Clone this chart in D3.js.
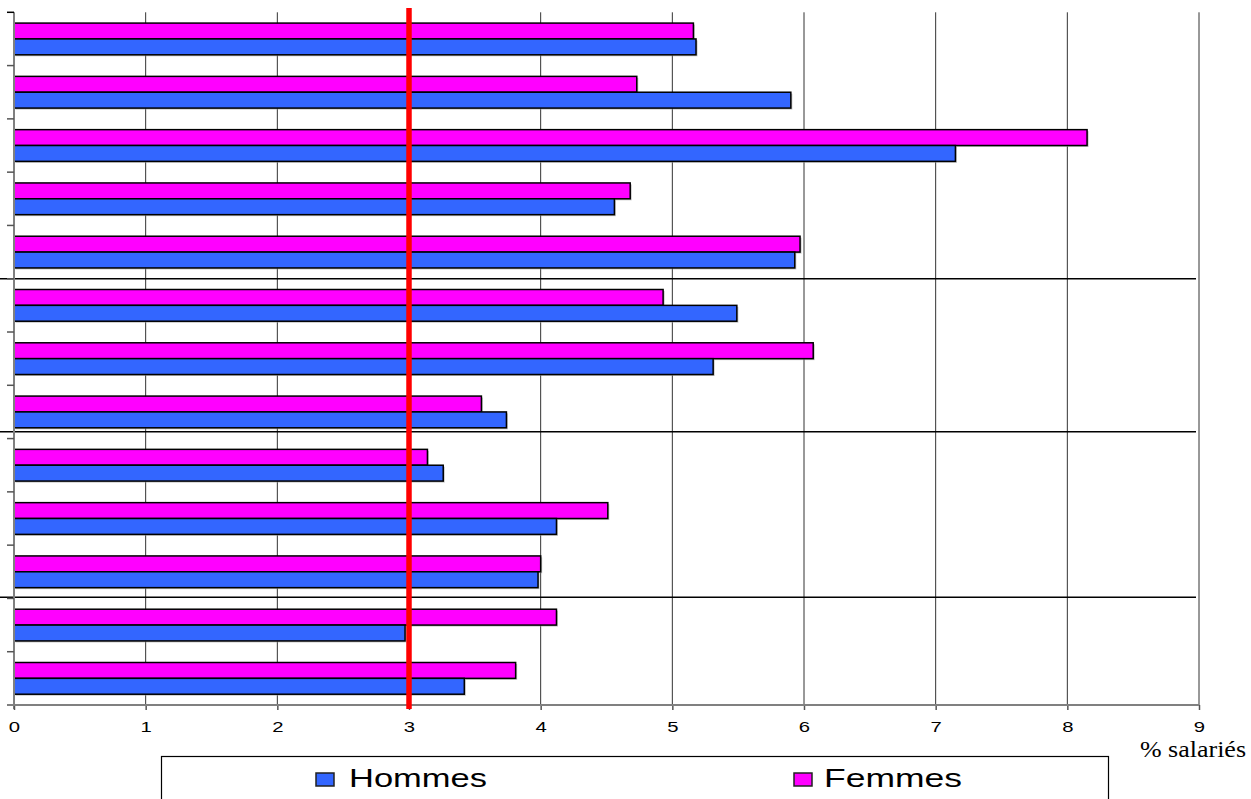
<!DOCTYPE html>
<html>
<head>
<meta charset="utf-8">
<script src="https://cdn.jsdelivr.net/npm/d3@7"></script>
<style>
  html, body { margin: 0; padding: 0; background: #fff; }
  svg { display: block; }
</style>
</head>
<body>
<svg id="chart" width="1251" height="799"></svg>
<script>
// ---- data ----
const categories = ["1","2","3","4","5","6","7","8","9","10","11","12","13"];
const seriesNames = ["Femmes", "Hommes"];
const femmes = [5.16, 4.73, 8.15, 4.68, 5.97, 4.93, 6.07, 3.55, 3.14, 4.51, 4.00, 4.12, 3.81];
const hommes = [5.18, 5.90, 7.15, 4.56, 5.93, 5.49, 5.31, 3.74, 3.26, 4.12, 3.98, 2.97, 3.42];
const xTicks = [0, 1, 2, 3, 4, 5, 6, 7, 8, 9];
const referenceValue = 3;
const separatorsAfter = [5, 8, 11];
const xAxisTitle = "% salariés";
const legendLabels = ["Hommes", "Femmes"];

(function () {
const colors = { Femmes: "#FF00FF", Hommes: "#3366FF" };

const svg = d3.select("#chart");
const pLeft = 14, pRight = 1199, pTop = 12.3, pBottom = 705;

const x = d3.scaleLinear().domain([0, 9]).range([pLeft, pRight]);
const y = d3.scaleBand().domain(categories).range([pTop, pBottom]).padding(0);
const ySub = d3.scaleBand().domain(seriesNames).range([0, y.bandwidth()])
  .paddingInner(0).paddingOuter(0.68);

// gridlines
svg.append("g").selectAll("line").data(xTicks.filter(d => d > 0)).join("line")
  .attr("x1", d => x(d)).attr("x2", d => x(d))
  .attr("y1", pTop).attr("y2", pBottom)
  .attr("stroke", "#333").attr("stroke-width", 1);

// bars
const rows = categories.map((c, i) => ({ c, Femmes: femmes[i], Hommes: hommes[i] }));
const g = svg.append("g");
seriesNames.forEach(s => {
  g.append("g").selectAll("rect").data(rows).join("rect")
    .attr("x", x(0) + 1.5)
    .attr("y", d => y(d.c) + ySub(s) + 1.5)
    .attr("width", d => x(d[s]) - x(0))
    .attr("height", ySub.bandwidth())
    .attr("fill", "#999").attr("opacity", 0.6);
  g.append("g").selectAll("rect").data(rows).join("rect")
    .attr("x", x(0))
    .attr("y", d => y(d.c) + ySub(s))
    .attr("width", d => x(d[s]) - x(0))
    .attr("height", ySub.bandwidth())
    .attr("fill", colors[s])
    .attr("stroke", "#000").attr("stroke-width", 1.5);
});

// separators
const sepOffsets = [0, -6.8, -1.2];
svg.append("g").selectAll("line").data(separatorsAfter).join("line")
  .attr("x1", 0).attr("x2", x(9) - 3)
  .attr("y1", (d, i) => y(categories[d]) + sepOffsets[i])
  .attr("y2", (d, i) => y(categories[d]) + sepOffsets[i])
  .attr("stroke", "#000").attr("stroke-width", 1.5);

// left axis
svg.append("line").attr("x1", pLeft).attr("x2", pLeft).attr("y1", pTop).attr("y2", pBottom + 4)
  .attr("stroke", "#808080").attr("stroke-width", 2);
const boundaries = categories.map(c => y(c)).concat([pBottom]);
svg.append("g").selectAll("line").data(boundaries).join("line")
  .attr("x1", pLeft - 7).attr("x2", pLeft)
  .attr("y1", d => d).attr("y2", d => d)
  .attr("stroke", (d, i) => i === 0 ? "#000" : "#555").attr("stroke-width", 1.5);

// bottom axis
const xAxis = d3.axisBottom(x).tickValues(xTicks).tickSize(5).tickFormat(d3.format("d"));
const gx = svg.append("g").attr("transform", `translate(0,${pBottom})`).call(xAxis);
gx.select(".domain").remove();
gx.selectAll(".tick line").attr("stroke", "#555").attr("stroke-width", 1.5);
gx.selectAll(".tick text")
  .attr("y", 27).attr("dy", 0)
  .attr("transform", "scale(1.45,1)")
  .attr("font-family", "'Liberation Sans', Arial, sans-serif")
  .attr("font-size", 14).attr("fill", "#000");
svg.append("line").attr("x1", pLeft - 7).attr("x2", pRight).attr("y1", pBottom).attr("y2", pBottom)
  .attr("stroke", "#808080").attr("stroke-width", 2);

// reference line
svg.append("line")
  .attr("x1", x(referenceValue)).attr("x2", x(referenceValue))
  .attr("y1", 8).attr("y2", pBottom + 4)
  .attr("stroke", "#FF0000").attr("stroke-width", 5.5);

// axis title
svg.append("text").attr("x", 1140).attr("y", 757)
  .attr("font-family", "'Liberation Serif', 'Times New Roman', serif")
  .attr("font-size", 24)
  .attr("textLength", 106).attr("lengthAdjust", "spacingAndGlyphs")
  .text(xAxisTitle);

// legend
svg.append("rect").attr("x", 161.5).attr("y", 756.5).attr("width", 947).attr("height", 60)
  .attr("fill", "#fff").attr("stroke", "#000").attr("stroke-width", 1.2);
const legendItems = [
  { label: legendLabels[0], color: colors.Hommes, sx: 316, tx: 349, tl: 138 },
  { label: legendLabels[1], color: colors.Femmes, sx: 794, tx: 824, tl: 138 }
];
legendItems.forEach(it => {
  svg.append("rect").attr("x", it.sx).attr("y", 773).attr("width", 18).attr("height", 13)
    .attr("fill", it.color).attr("stroke", "#222").attr("stroke-width", 1.5);
  svg.append("text").attr("x", it.tx).attr("y", 787)
    .attr("font-family", "'Liberation Sans', Arial, sans-serif")
    .attr("font-size", 25)
    .attr("textLength", it.tl).attr("lengthAdjust", "spacingAndGlyphs")
    .text(it.label);
});
})();
</script>
</body>
</html>
